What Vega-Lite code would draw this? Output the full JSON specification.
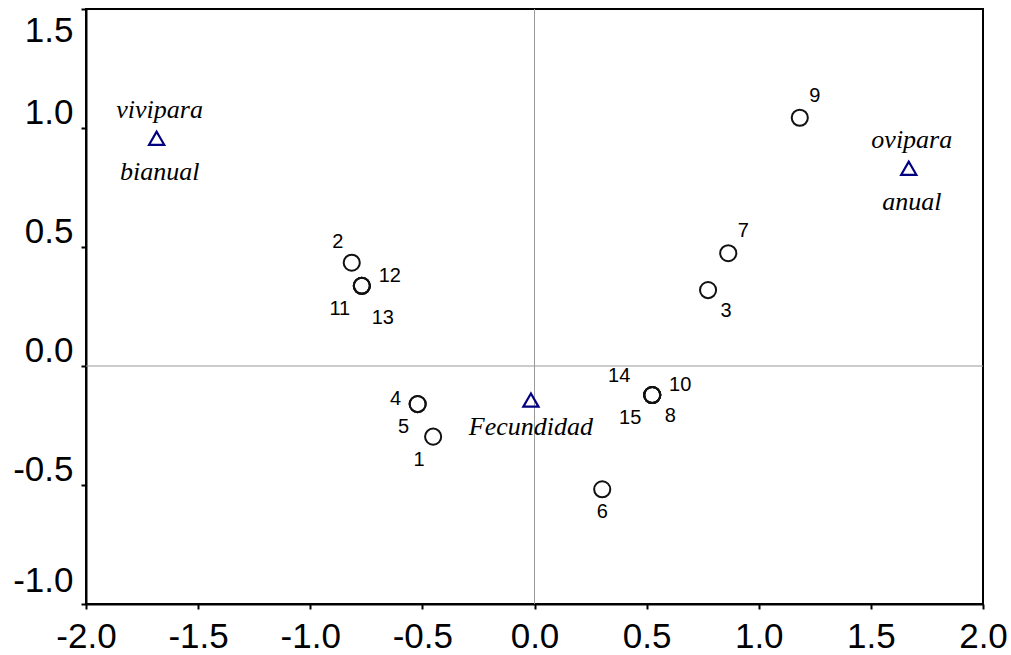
{
  "$schema": "https://vega.github.io/schema/vega-lite/v6.json",
  "width": 897,
  "height": 595,
  "autosize": "none",
  "padding": {"left": 86, "top": 9, "right": 28, "bottom": 51},
  "background": "white",
  "config": {
    "view": {"stroke": "black", "strokeWidth": 2},
    "axis": {
      "grid": false,
      "title": null,
      "domainColor": "black",
      "domainWidth": 2,
      "tickColor": "black",
      "tickWidth": 2,
      "tickSize": 5,
      "labelFont": "Liberation Sans",
      "labelFontSize": 35,
      "labelColor": "black",
      "labelExpr": "replace(format(datum.value, '.1f'), '\u2212', '-')"
    }
  },
  "datasets": {
    "pts": [
      {"id": "1", "x": -0.452, "y": -0.297, "pos": "ll2"},
      {"id": "2", "x": -0.815, "y": 0.434, "pos": "ul"},
      {"id": "3", "x": 0.774, "y": 0.319, "pos": "lr"},
      {"id": "4", "x": -0.521, "y": -0.16, "pos": "l"},
      {"id": "5", "x": -0.521, "y": -0.16, "pos": "ll2"},
      {"id": "6", "x": 0.302, "y": -0.518, "pos": "b"},
      {"id": "7", "x": 0.864, "y": 0.474, "pos": "ur"},
      {"id": "8", "x": 0.525, "y": -0.122, "pos": "lr"},
      {"id": "9", "x": 1.183, "y": 1.043, "pos": "ur"},
      {"id": "10", "x": 0.525, "y": -0.122, "pos": "r"},
      {"id": "11", "x": -0.77, "y": 0.337, "pos": "ll"},
      {"id": "12", "x": -0.77, "y": 0.337, "pos": "r"},
      {"id": "13", "x": -0.77, "y": 0.337, "pos": "lr2"},
      {"id": "14", "x": 0.525, "y": -0.122, "pos": "ul2"},
      {"id": "15", "x": 0.525, "y": -0.122, "pos": "ll"}
    ],
    "cats": [
      {"name": "vivipara", "x": -1.685, "y": 0.957, "pos": "above"},
      {"name": "bianual", "x": -1.685, "y": 0.957, "pos": "below"},
      {"name": "ovipara", "x": 1.669, "y": 0.831, "pos": "above"},
      {"name": "anual", "x": 1.669, "y": 0.831, "pos": "below"},
      {"name": "Fecundidad", "x": -0.016, "y": -0.143, "pos": "below2"}
    ]
  },
  "layer": [
    {
      "data": {"values": [{}]},
      "mark": {"type": "rule", "color": "#999999", "strokeWidth": 1},
      "encoding": {
        "x": {"datum": 0, "type": "quantitative", "scale": {"domain": [-2, 2], "nice": false, "zero": false},
          "axis": {"orient": "bottom", "values": [-2, -1.5, -1, -0.5, 0, 0.5, 1, 1.5, 2], "labelBaseline": "alphabetic", "labelPadding": 38, "labelFlush": false}}
      }
    },
    {
      "data": {"values": [{}]},
      "mark": {"type": "rule", "color": "#999999", "strokeWidth": 1},
      "encoding": {
        "y": {"datum": 0, "type": "quantitative", "scale": {"domain": [-1, 1.5], "nice": false, "zero": false},
          "axis": {"orient": "left", "values": [-1, -0.5, 0, 0.5, 1, 1.5], "labelFlush": false, "labelPadding": 8,
            "labelBaseline": {"condition": {"test": "datum.value == 1.5", "value": "top"}, "value": "alphabetic"},
            "labelOffset": {"condition": [{"test": "datum.value == 1.5", "value": 4}, {"test": "datum.value == -1", "value": -13}], "value": -5}}}
      }
    },
    {
      "data": {"name": "pts"},
      "mark": {"type": "point", "shape": "circle", "filled": false, "size": 260, "stroke": "#111111", "strokeWidth": 2, "opacity": 1},
      "encoding": {
        "x": {"field": "x", "type": "quantitative"},
        "y": {"field": "y", "type": "quantitative"}
      }
    },
    {
      "data": {"name": "cats"},
      "transform": [{"filter": "datum.pos != 'below'"}],
      "mark": {"type": "point", "shape": "triangle-up", "filled": false, "size": 230, "stroke": "#000080", "strokeWidth": 2.2, "opacity": 1},
      "encoding": {
        "x": {"field": "x", "type": "quantitative"},
        "y": {"field": "y", "type": "quantitative"}
      }
    },
    {
      "data": {"name": "cats"},
      "transform": [{"filter": "datum.pos == 'above'"}],
      "mark": {"type": "text", "font": "Liberation Serif", "fontStyle": "italic", "fontSize": 26, "color": "black", "baseline": "alphabetic", "align": "center", "dx": 3, "dy": -20},
      "encoding": {"x": {"field": "x", "type": "quantitative"}, "y": {"field": "y", "type": "quantitative"}, "text": {"field": "name"}}
    },
    {
      "data": {"name": "cats"},
      "transform": [{"filter": "datum.pos == 'below'"}],
      "mark": {"type": "text", "font": "Liberation Serif", "fontStyle": "italic", "fontSize": 26, "color": "black", "baseline": "alphabetic", "align": "center", "dx": 3, "dy": 42},
      "encoding": {"x": {"field": "x", "type": "quantitative"}, "y": {"field": "y", "type": "quantitative"}, "text": {"field": "name"}}
    },
    {
      "data": {"name": "cats"},
      "transform": [{"filter": "datum.pos == 'below2'"}],
      "mark": {"type": "text", "font": "Liberation Serif", "fontStyle": "italic", "fontSize": 26, "color": "black", "baseline": "alphabetic", "align": "center", "dy": 35},
      "encoding": {"x": {"field": "x", "type": "quantitative"}, "y": {"field": "y", "type": "quantitative"}, "text": {"field": "name"}}
    },
    {
      "data": {"name": "pts"},
      "transform": [{"filter": "datum.pos == 'ur'"}],
      "mark": {"type": "text", "font": "Liberation Sans", "fontSize": 20, "color": "black", "baseline": "middle", "align": "center", "dx": 15, "dy": -22},
      "encoding": {"x": {"field": "x", "type": "quantitative"}, "y": {"field": "y", "type": "quantitative"}, "text": {"field": "id"}}
    },
    {
      "data": {"name": "pts"},
      "transform": [{"filter": "datum.pos == 'ul'"}],
      "mark": {"type": "text", "font": "Liberation Sans", "fontSize": 20, "color": "black", "baseline": "middle", "align": "center", "dx": -14, "dy": -21},
      "encoding": {"x": {"field": "x", "type": "quantitative"}, "y": {"field": "y", "type": "quantitative"}, "text": {"field": "id"}}
    },
    {
      "data": {"name": "pts"},
      "transform": [{"filter": "datum.pos == 'ul2'"}],
      "mark": {"type": "text", "font": "Liberation Sans", "fontSize": 20, "color": "black", "baseline": "middle", "align": "center", "dx": -33, "dy": -19},
      "encoding": {"x": {"field": "x", "type": "quantitative"}, "y": {"field": "y", "type": "quantitative"}, "text": {"field": "id"}}
    },
    {
      "data": {"name": "pts"},
      "transform": [{"filter": "datum.pos == 'r'"}],
      "mark": {"type": "text", "font": "Liberation Sans", "fontSize": 20, "color": "black", "baseline": "middle", "align": "center", "dx": 28, "dy": -10},
      "encoding": {"x": {"field": "x", "type": "quantitative"}, "y": {"field": "y", "type": "quantitative"}, "text": {"field": "id"}}
    },
    {
      "data": {"name": "pts"},
      "transform": [{"filter": "datum.pos == 'll'"}],
      "mark": {"type": "text", "font": "Liberation Sans", "fontSize": 20, "color": "black", "baseline": "middle", "align": "center", "dx": -22, "dy": 23},
      "encoding": {"x": {"field": "x", "type": "quantitative"}, "y": {"field": "y", "type": "quantitative"}, "text": {"field": "id"}}
    },
    {
      "data": {"name": "pts"},
      "transform": [{"filter": "datum.pos == 'll2'"}],
      "mark": {"type": "text", "font": "Liberation Sans", "fontSize": 20, "color": "black", "baseline": "middle", "align": "center", "dx": -14, "dy": 23},
      "encoding": {"x": {"field": "x", "type": "quantitative"}, "y": {"field": "y", "type": "quantitative"}, "text": {"field": "id"}}
    },
    {
      "data": {"name": "pts"},
      "transform": [{"filter": "datum.pos == 'lr'"}],
      "mark": {"type": "text", "font": "Liberation Sans", "fontSize": 20, "color": "black", "baseline": "middle", "align": "center", "dx": 18, "dy": 21},
      "encoding": {"x": {"field": "x", "type": "quantitative"}, "y": {"field": "y", "type": "quantitative"}, "text": {"field": "id"}}
    },
    {
      "data": {"name": "pts"},
      "transform": [{"filter": "datum.pos == 'lr2'"}],
      "mark": {"type": "text", "font": "Liberation Sans", "fontSize": 20, "color": "black", "baseline": "middle", "align": "center", "dx": 21, "dy": 32},
      "encoding": {"x": {"field": "x", "type": "quantitative"}, "y": {"field": "y", "type": "quantitative"}, "text": {"field": "id"}}
    },
    {
      "data": {"name": "pts"},
      "transform": [{"filter": "datum.pos == 'l'"}],
      "mark": {"type": "text", "font": "Liberation Sans", "fontSize": 20, "color": "black", "baseline": "middle", "align": "center", "dx": -22, "dy": -5},
      "encoding": {"x": {"field": "x", "type": "quantitative"}, "y": {"field": "y", "type": "quantitative"}, "text": {"field": "id"}}
    },
    {
      "data": {"name": "pts"},
      "transform": [{"filter": "datum.pos == 'b'"}],
      "mark": {"type": "text", "font": "Liberation Sans", "fontSize": 20, "color": "black", "baseline": "middle", "align": "center", "dx": 0, "dy": 23},
      "encoding": {"x": {"field": "x", "type": "quantitative"}, "y": {"field": "y", "type": "quantitative"}, "text": {"field": "id"}}
    }
  ]
}
